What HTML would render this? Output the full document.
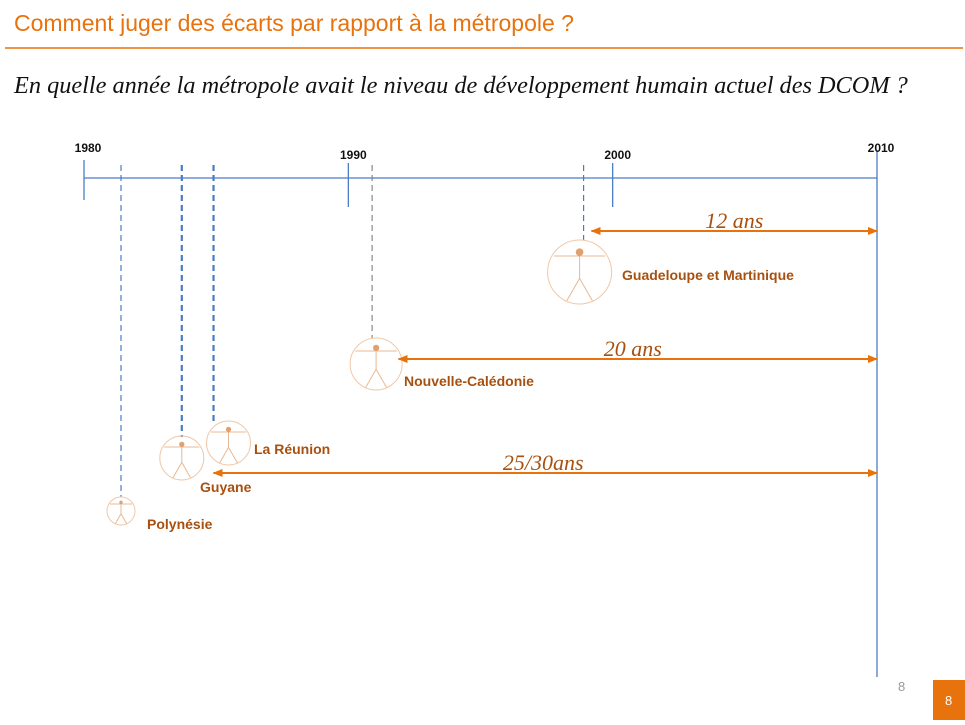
<!DOCTYPE html>
<html><head><meta charset="utf-8"><style>
body{margin:0;width:965px;height:720px;background:#fff;overflow:hidden;font-family:"Liberation Sans",sans-serif;}
</style></head><body>
<svg width="965" height="720" xmlns="http://www.w3.org/2000/svg">
<text x="14" y="31" font-size="23" fill="#e8720c" font-family="Liberation Sans, sans-serif">Comment juger des écarts par rapport à la métropole ?</text>
<line x1="5" y1="48" x2="963" y2="48" stroke="#e8720c" stroke-width="1.5"/>
<text x="14" y="93" font-size="24.3" font-style="italic" fill="#111" font-family="Liberation Serif, serif">En quelle année la métropole avait le niveau de développement humain actuel des DCOM ?</text>
<g id="chart"></g>
<text x="898" y="691" font-size="13" fill="#999">8</text>
<rect x="933" y="680" width="32" height="40" fill="#e8720c"/>
<text x="945" y="705" font-size="13" fill="#fff">8</text>
</svg>
<script>
const years=[1980,1990,2000,2010];
const territories=["Polynésie","Guyane","La Réunion","Nouvelle-Calédonie","Guadeloupe et Martinique"];
const territoryYears=[1981.4,1983.7,1984.9,1990.9,1998.9];
const gapLabels=["12 ans","20 ans","25/30ans"];
const gapFromYears=[1999.2,1991.9,1984.9];
const NS="http://www.w3.org/2000/svg";
const g=document.getElementById("chart");
const X=y=>84+(y-1980)*(877-84)/30;
function el(t,a,p){const e=document.createElementNS(NS,t);for(const k in a)e.setAttribute(k,a[k]);(p||g).appendChild(e);return e;}
const blue="#4a7cc4",org="#e8720c",brown="#a8500f";
const defs=el("defs",{});
const m=el("marker",{id:"ah",markerWidth:5,markerHeight:5,refX:4.5,refY:2.5,orient:"auto-start-reverse",markerUnits:"strokeWidth"},defs);
el("path",{d:"M0,0.5 L5,2.5 L0,4.5 z",fill:org},m);
let ax=el("line",{x1:X(1980),y1:178,x2:X(2010),y2:178,stroke:blue,"stroke-width":1.3});


const tickTop=[160,163,163,150],tickBot=[200,207,207,677],labY=[152,159,159,152];
years.forEach((y,i)=>{
 const l=el("line",{x1:X(y),y1:tickTop[i],x2:X(y),y2:tickBot[i],stroke:blue,"stroke-width":1.3});
 
 
 const t=el("text",{x:X(y)+(i==0?4:i==3?4:5),y:labY[i],"font-size":12,"font-weight":"bold",fill:"#111","text-anchor":"middle"});
 t.textContent=y;
 
 
});
const circ=[[0,511,14],[0,458,22],[15,443,22],[4,364,26],[-4,272,32]];
const dashEnd=[497,437,424,338,240];
const dashCol=[blue,blue,blue,"#888","#5577aa"];
const dashW=[1.2,2.2,2.2,1.2,1.2];
const labPos=[[147,529],[200,492],[254,454],[404,386],[622,280]];
territoryYears.forEach((y,i)=>{
 const x=X(y);
 const d=el("line",{x1:x,y1:165,x2:x,y2:dashEnd[i],stroke:dashCol[i],"stroke-width":dashW[i],"stroke-dasharray":"6,4"});
 
 
 const [dx,cy,r]=circ[i];const cx=x+dx;
 const c=el("circle",{cx:cx,cy:cy,r:r,fill:"none",stroke:"#f0c8a8","stroke-width":1});
 
 
 el("path",{d:`M${cx-r*0.8},${cy-r*0.5} L${cx+r*0.8},${cy-r*0.5} M${cx},${cy-r*0.6} L${cx},${cy+r*0.2} L${cx-r*0.4},${cy+r*0.9} M${cx},${cy+r*0.2} L${cx+r*0.4},${cy+r*0.9}`,stroke:"#e8b894","stroke-width":1,fill:"none"});
 el("circle",{cx:cx,cy:cy-r*0.62,r:r*0.12,fill:"#e0a070"});
 const t=el("text",{x:labPos[i][0],y:labPos[i][1],"font-size":14,"font-weight":"bold",fill:brown});
 t.textContent=territories[i];
 
 
});
const arrY=[231,359,473];
gapLabels.forEach((s,i)=>{
 const x1=X(gapFromYears[i]);
 const a=el("line",{x1:x1,y1:arrY[i],x2:X(2010),y2:arrY[i],stroke:org,"stroke-width":2,"marker-start":"url(#ah)","marker-end":"url(#ah)"});
 
 
 const t=el("text",{x:(x1+X(2010))/2+[0,-5,-2][i],y:arrY[i]-3,"font-size":22,"font-style":"italic",fill:brown,"font-family":"Liberation Serif, serif","text-anchor":"middle"});
 t.textContent=s;
 
 
});
</script>
</body></html>
